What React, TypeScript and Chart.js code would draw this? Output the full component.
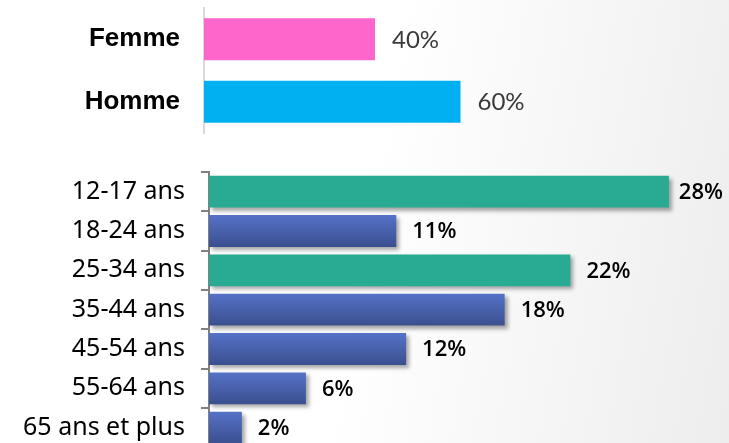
import React, { useEffect, useRef } from "react";
import { Chart, registerables } from "chart.js";
Chart.register(...registerables);

const genderLabels = ["Femme", "Homme"];
const genderValues = [40, 60];
const genderColors = ["#ff66cc", "#00b0f0"];

const ageLabels = ["12-17 ans", "18-24 ans", "25-34 ans", "35-44 ans", "45-54 ans", "55-64 ans", "65 ans et plus"];
const ageValues = [28, 11.4, 22, 18, 12, 5.9, 2];
const ageHighlight = [true, false, true, false, false, false, false];

const shadowPlugin = {
  id: "barShadow",
  beforeDatasetsDraw(chart: any) {
    const ctx = chart.ctx;
    ctx.save();
    ctx.shadowColor = "rgba(0,0,0,0.35)";
    ctx.shadowBlur = 4;
    ctx.shadowOffsetX = 3;
    ctx.shadowOffsetY = 3;
  },
  afterDatasetsDraw(chart: any) {
    chart.ctx.restore();
  },
};

function makeLabelPlugin(font: string, color: string, offset: number) {
  return {
    id: "valueLabels",
    afterDatasetsDraw(chart: any) {
      const ctx = chart.ctx;
      ctx.save();
      ctx.font = font;
      ctx.fillStyle = color;
      ctx.textBaseline = "middle";
      ctx.textAlign = "left";
      chart.data.datasets.forEach((ds: any, di: number) => {
        const meta = chart.getDatasetMeta(di);
        meta.data.forEach((bar: any, i: number) => {
          const txt = Math.round(ds.data[i]) + "%";
          const w = ctx.measureText(txt).width;
          const x = Math.min(bar.x + offset, chart.width - 6 - w);
          ctx.fillText(txt, x, bar.y + 1);
        });
      });
      ctx.restore();
    },
  };
}

export default function App() {
  const topRef = useRef<HTMLCanvasElement>(null);
  const botRef = useRef<HTMLCanvasElement>(null);

  useEffect(() => {
    const top = new Chart(topRef.current!, {
      type: "bar",
      data: {
        labels: genderLabels,
        datasets: [
          {
            data: genderValues,
            backgroundColor: genderColors,
            categoryPercentage: 1,
            barPercentage: 0.67,
          },
        ],
      },
      options: {
        indexAxis: "y",
        animation: false,
        responsive: false,
        layout: { padding: { top: 48, bottom: 47, left: 0, right: 97.5 } },
        plugins: { legend: { display: false }, tooltip: { enabled: false } },
        scales: {
          x: { display: false, min: 0, max: 100 },
          y: {
            afterFit: (s: any) => {
              s.width = 204;
            },
            grid: { display: false, drawTicks: false },
            border: { display: true, color: "#d9d9d9", width: 2 },
            ticks: {
              padding: 24,
              color: "#000000",
              font: { family: "'Liberation Sans', Arial, sans-serif", size: 26, weight: "bold" },
            },
          },
        },
      },
      plugins: [makeLabelPlugin("24px Lato, sans-serif", "#3a3a3a", 17)],
    });

    const bot = new Chart(botRef.current!, {
      type: "bar",
      data: {
        labels: ageLabels,
        datasets: [
          {
            data: ageValues,
            categoryPercentage: 1,
            barPercentage: 0.81,
            backgroundColor: (c: any) => {
              if (ageHighlight[c.dataIndex]) return "#29ab93";
              const chart = c.chart;
              const ys = chart.scales && chart.scales.y;
              if (!chart.chartArea || !ys) return "#4a62ad";
              const y = ys.getPixelForValue(c.dataIndex);
              const g = chart.ctx.createLinearGradient(0, y - 16, 0, y + 16);
              g.addColorStop(0, "#5572c8");
              g.addColorStop(1, "#3b4f8e");
              return g;
            },
          },
        ],
      },
      options: {
        indexAxis: "y",
        animation: false,
        responsive: false,
        layout: { padding: { top: 42, bottom: 42.7, left: 0, right: 27.2 } },
        plugins: { legend: { display: false }, tooltip: { enabled: false } },
        scales: {
          x: { display: false, min: 0, max: 30 },
          y: {
            afterFit: (s: any) => {
              s.width = 209;
            },
            grid: {
              display: true,
              drawOnChartArea: false,
              drawTicks: true,
              tickLength: 8,
              color: "#808080",
              lineWidth: 2,
              offset: true,
            },
            border: { display: true, color: "#808080", width: 2 },
            ticks: {
              padding: 16,
              color: "#000000",
              font: { family: "'Noto Sans', sans-serif", size: 25 },
            },
          },
        },
      },
      plugins: [shadowPlugin, makeLabelPlugin("600 22px 'Open Sans', sans-serif", "#000000", 16)],
    });

    return () => {
      top.destroy();
      bot.destroy();
    };
  }, []);

  return (
    <div
      style={{
        position: "fixed",
        left: 0,
        top: 0,
        width: 729,
        height: 443,
        overflow: "hidden",
        background: "linear-gradient(100deg, #ffffff 0%, #ffffff 50%, #ededed 100%)",
      }}
    >
      <canvas
        ref={topRef}
        width={729}
        height={220}
        style={{ position: "absolute", left: 0, top: -40, width: 729, height: 220 }}
      />
      <canvas
        ref={botRef}
        width={729}
        height={360}
        style={{ position: "absolute", left: 0, top: 130, width: 729, height: 360 }}
      />
    </div>
  );
}
